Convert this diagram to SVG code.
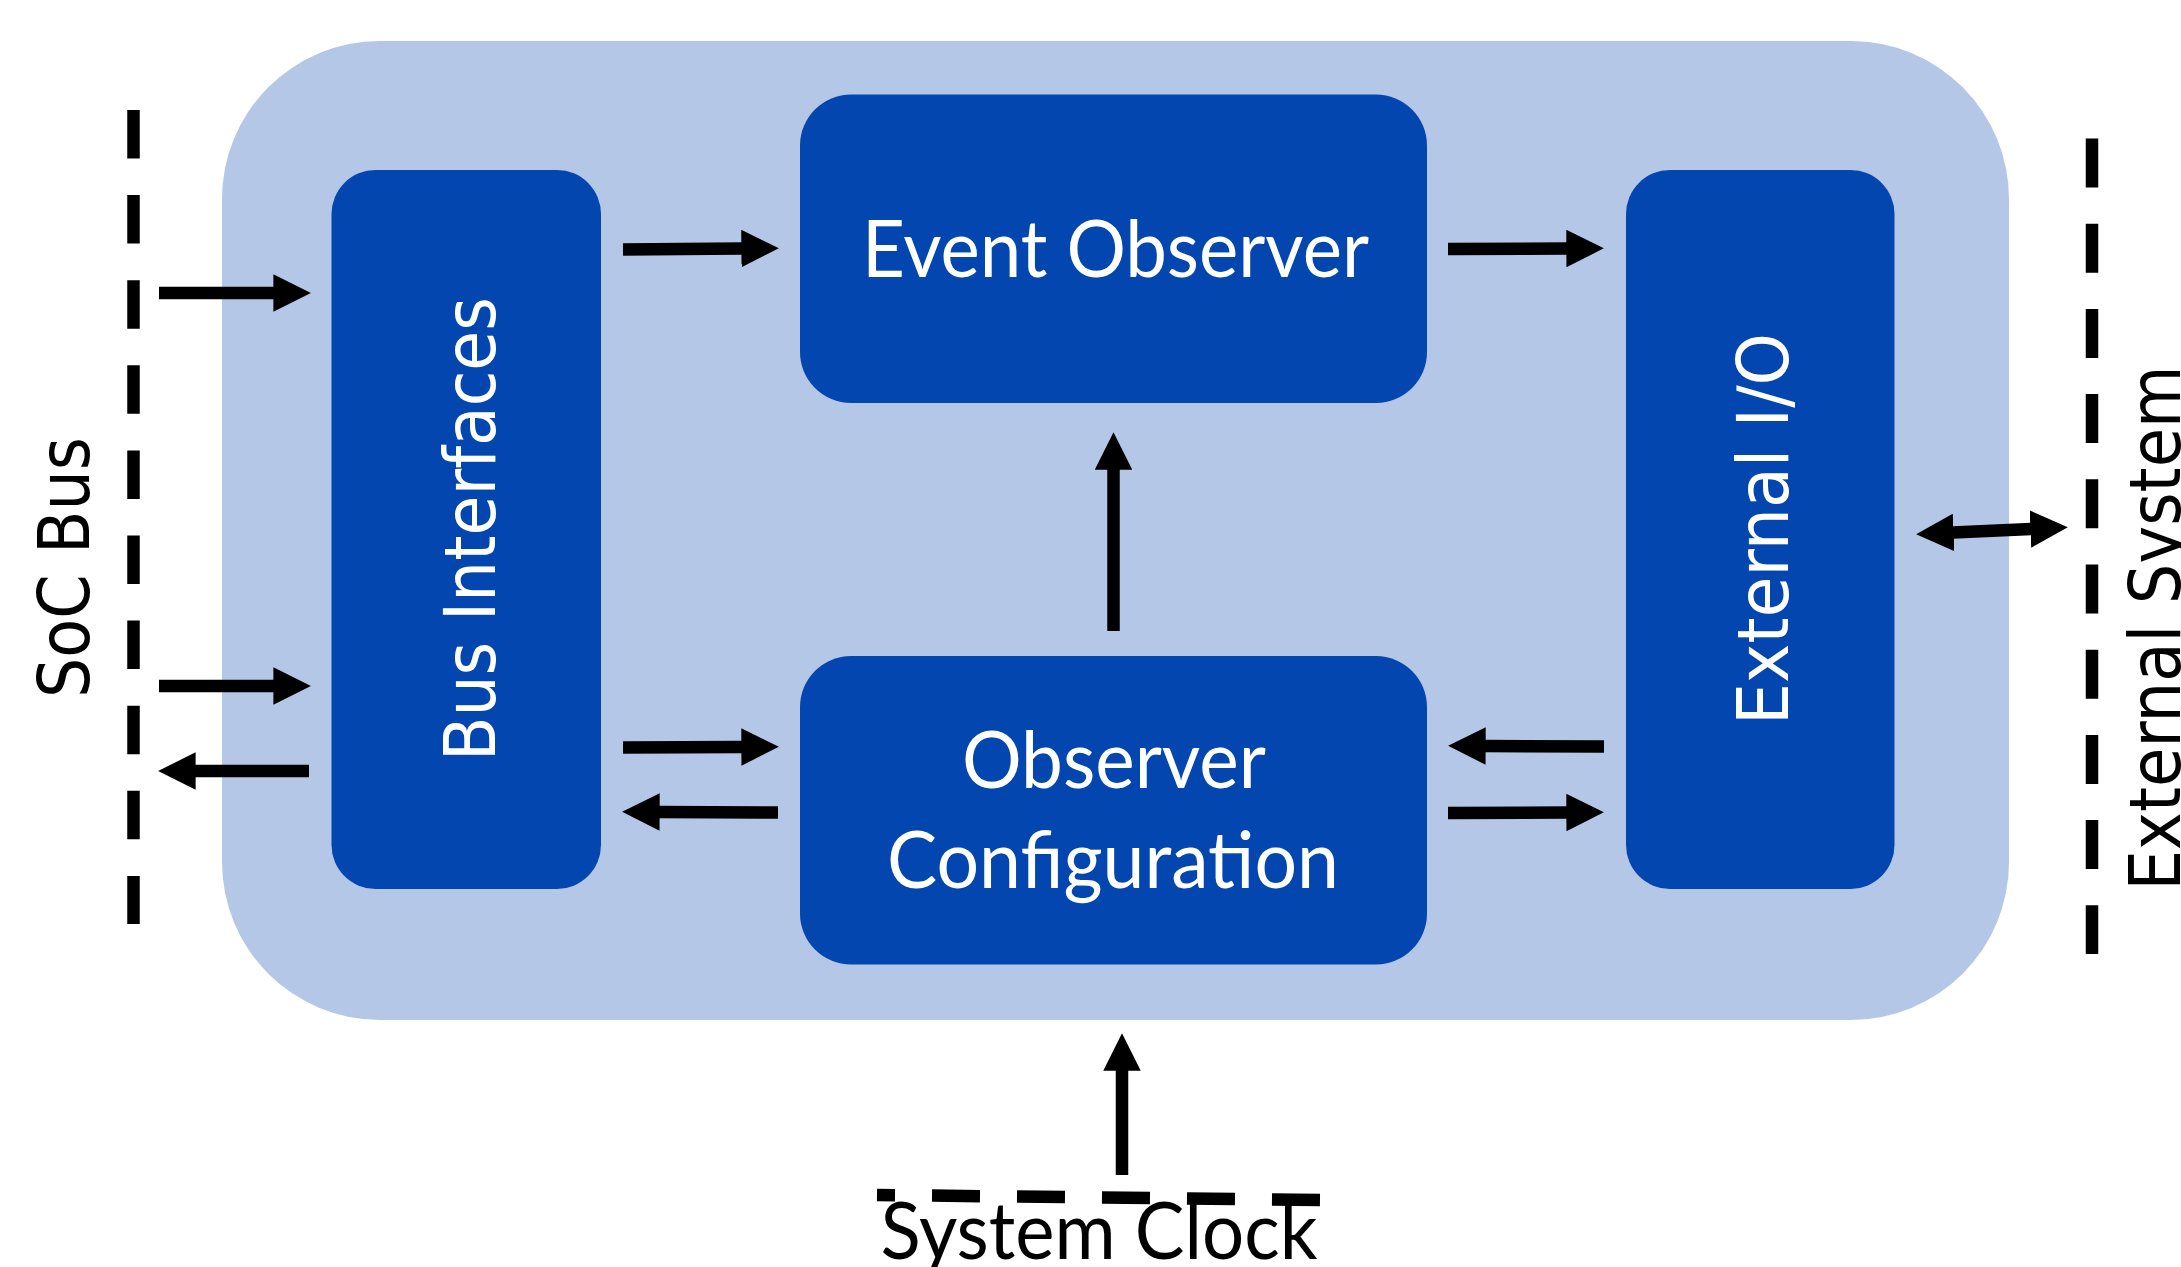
<svg xmlns="http://www.w3.org/2000/svg" width="2181" height="1267" viewBox="0 0 2181 1267">
  <style>
    .panel { fill: #B4C7E7; }
    .block { fill: #0446AF; }
    .wire { stroke: #000; stroke-width: 12.5; fill: none; marker-end: url(#head); }
    .bus { stroke: #000; stroke-width: 12.5; fill: none; }
    .vlabel { font-family: "DejaVu Sans", sans-serif; font-size: 71px; text-anchor: middle; }
    .hlabel { font-family: Lato, "Open Sans", sans-serif; font-size: 80px; text-anchor: middle; }
    .white { fill: #fff; }
    .black { fill: #000; }
  </style>
  <defs>
    <marker id="head" viewBox="0 0 3 3" refX="0.05" refY="1.5" markerWidth="3" markerHeight="3" markerUnits="strokeWidth" orient="auto-start-reverse">
      <path d="M0,0 L3,1.5 L0,3 z" fill="#000"/>
    </marker>
  </defs>

  <rect width="2181" height="1267" fill="#fff"/>

  <!-- enclosing subsystem -->
  <rect id="subsystem" class="panel" x="222" y="41" width="1787" height="979" rx="158" ry="158"/>

  <!-- external bus boundaries -->
  <g id="boundaries">
    <line id="soc-bus-line" class="bus" x1="133.5" y1="110" x2="133.5" y2="924" stroke-dasharray="48.5 36.6"/>
    <line id="ext-sys-line" class="bus" x1="2092" y1="138.5" x2="2092" y2="954" stroke-dasharray="49 36.2"/>
    <line id="clock-line" class="bus" x1="877" y1="1195" x2="1320" y2="1200" stroke-dasharray="48 37" stroke-dashoffset="30"/>
  </g>

  <g id="bus-interfaces">
    <rect class="block" x="331.5" y="170" width="269.5" height="719" rx="44" ry="44"/>
    <text class="vlabel white" transform="translate(494.5,529) rotate(-90)" textLength="464" lengthAdjust="spacingAndGlyphs">Bus Interfaces</text>
  </g>

  <g id="event-observer">
    <rect class="block" x="800" y="94.5" width="627" height="308.5" rx="51" ry="51"/>
    <text class="hlabel white" x="1115.5" y="277" textLength="507" lengthAdjust="spacingAndGlyphs">Event Observer</text>
  </g>

  <g id="observer-configuration">
    <rect class="block" x="800" y="656" width="627" height="308.5" rx="51" ry="51"/>
    <text class="hlabel white" x="1114" y="788" textLength="304" lengthAdjust="spacingAndGlyphs">Observer</text>
    <text class="hlabel white" x="1113" y="888" textLength="452" lengthAdjust="spacingAndGlyphs">Configuration</text>
  </g>

  <g id="external-io">
    <rect class="block" x="1626" y="170" width="268.5" height="719" rx="44" ry="44"/>
    <text class="vlabel white" transform="translate(1788,529) rotate(-90)" textLength="392" lengthAdjust="spacingAndGlyphs">External I/O</text>
  </g>

  <g id="soc-bus">
    <text class="vlabel black" transform="translate(89,567.5) rotate(-90)" textLength="261" lengthAdjust="spacingAndGlyphs">SoC Bus</text>
  </g>

  <g id="external-system">
    <text class="vlabel black" transform="translate(2180,628) rotate(-90)" textLength="525" lengthAdjust="spacingAndGlyphs">External System</text>
  </g>

  <g id="system-clock">
    <text class="hlabel black" x="1099" y="1259" textLength="437" lengthAdjust="spacingAndGlyphs">System Clock</text>
  </g>

  <g id="connectors">
    <line class="wire" x1="159" y1="293" x2="274" y2="293"/>
    <line class="wire" x1="159" y1="686" x2="274" y2="686"/>
    <line class="wire" x1="309" y1="771" x2="195" y2="771"/>
    <line class="wire" x1="623" y1="249.5" x2="742" y2="248.5"/>
    <line class="wire" x1="1448" y1="249" x2="1567" y2="248.5"/>
    <line class="wire" x1="1113.5" y1="631" x2="1113.5" y2="469"/>
    <line class="wire" x1="623" y1="747.5" x2="742" y2="747"/>
    <line class="wire" x1="778" y1="812.5" x2="659" y2="812"/>
    <line class="wire" x1="1604" y1="746.5" x2="1485" y2="746"/>
    <line class="wire" x1="1448" y1="813" x2="1567" y2="812.5"/>
    <line class="wire" x1="1953" y1="532.5" x2="2031" y2="529" marker-start="url(#head)"/>
    <line class="wire" x1="1122" y1="1175" x2="1122" y2="1070"/>
  </g>
</svg>
